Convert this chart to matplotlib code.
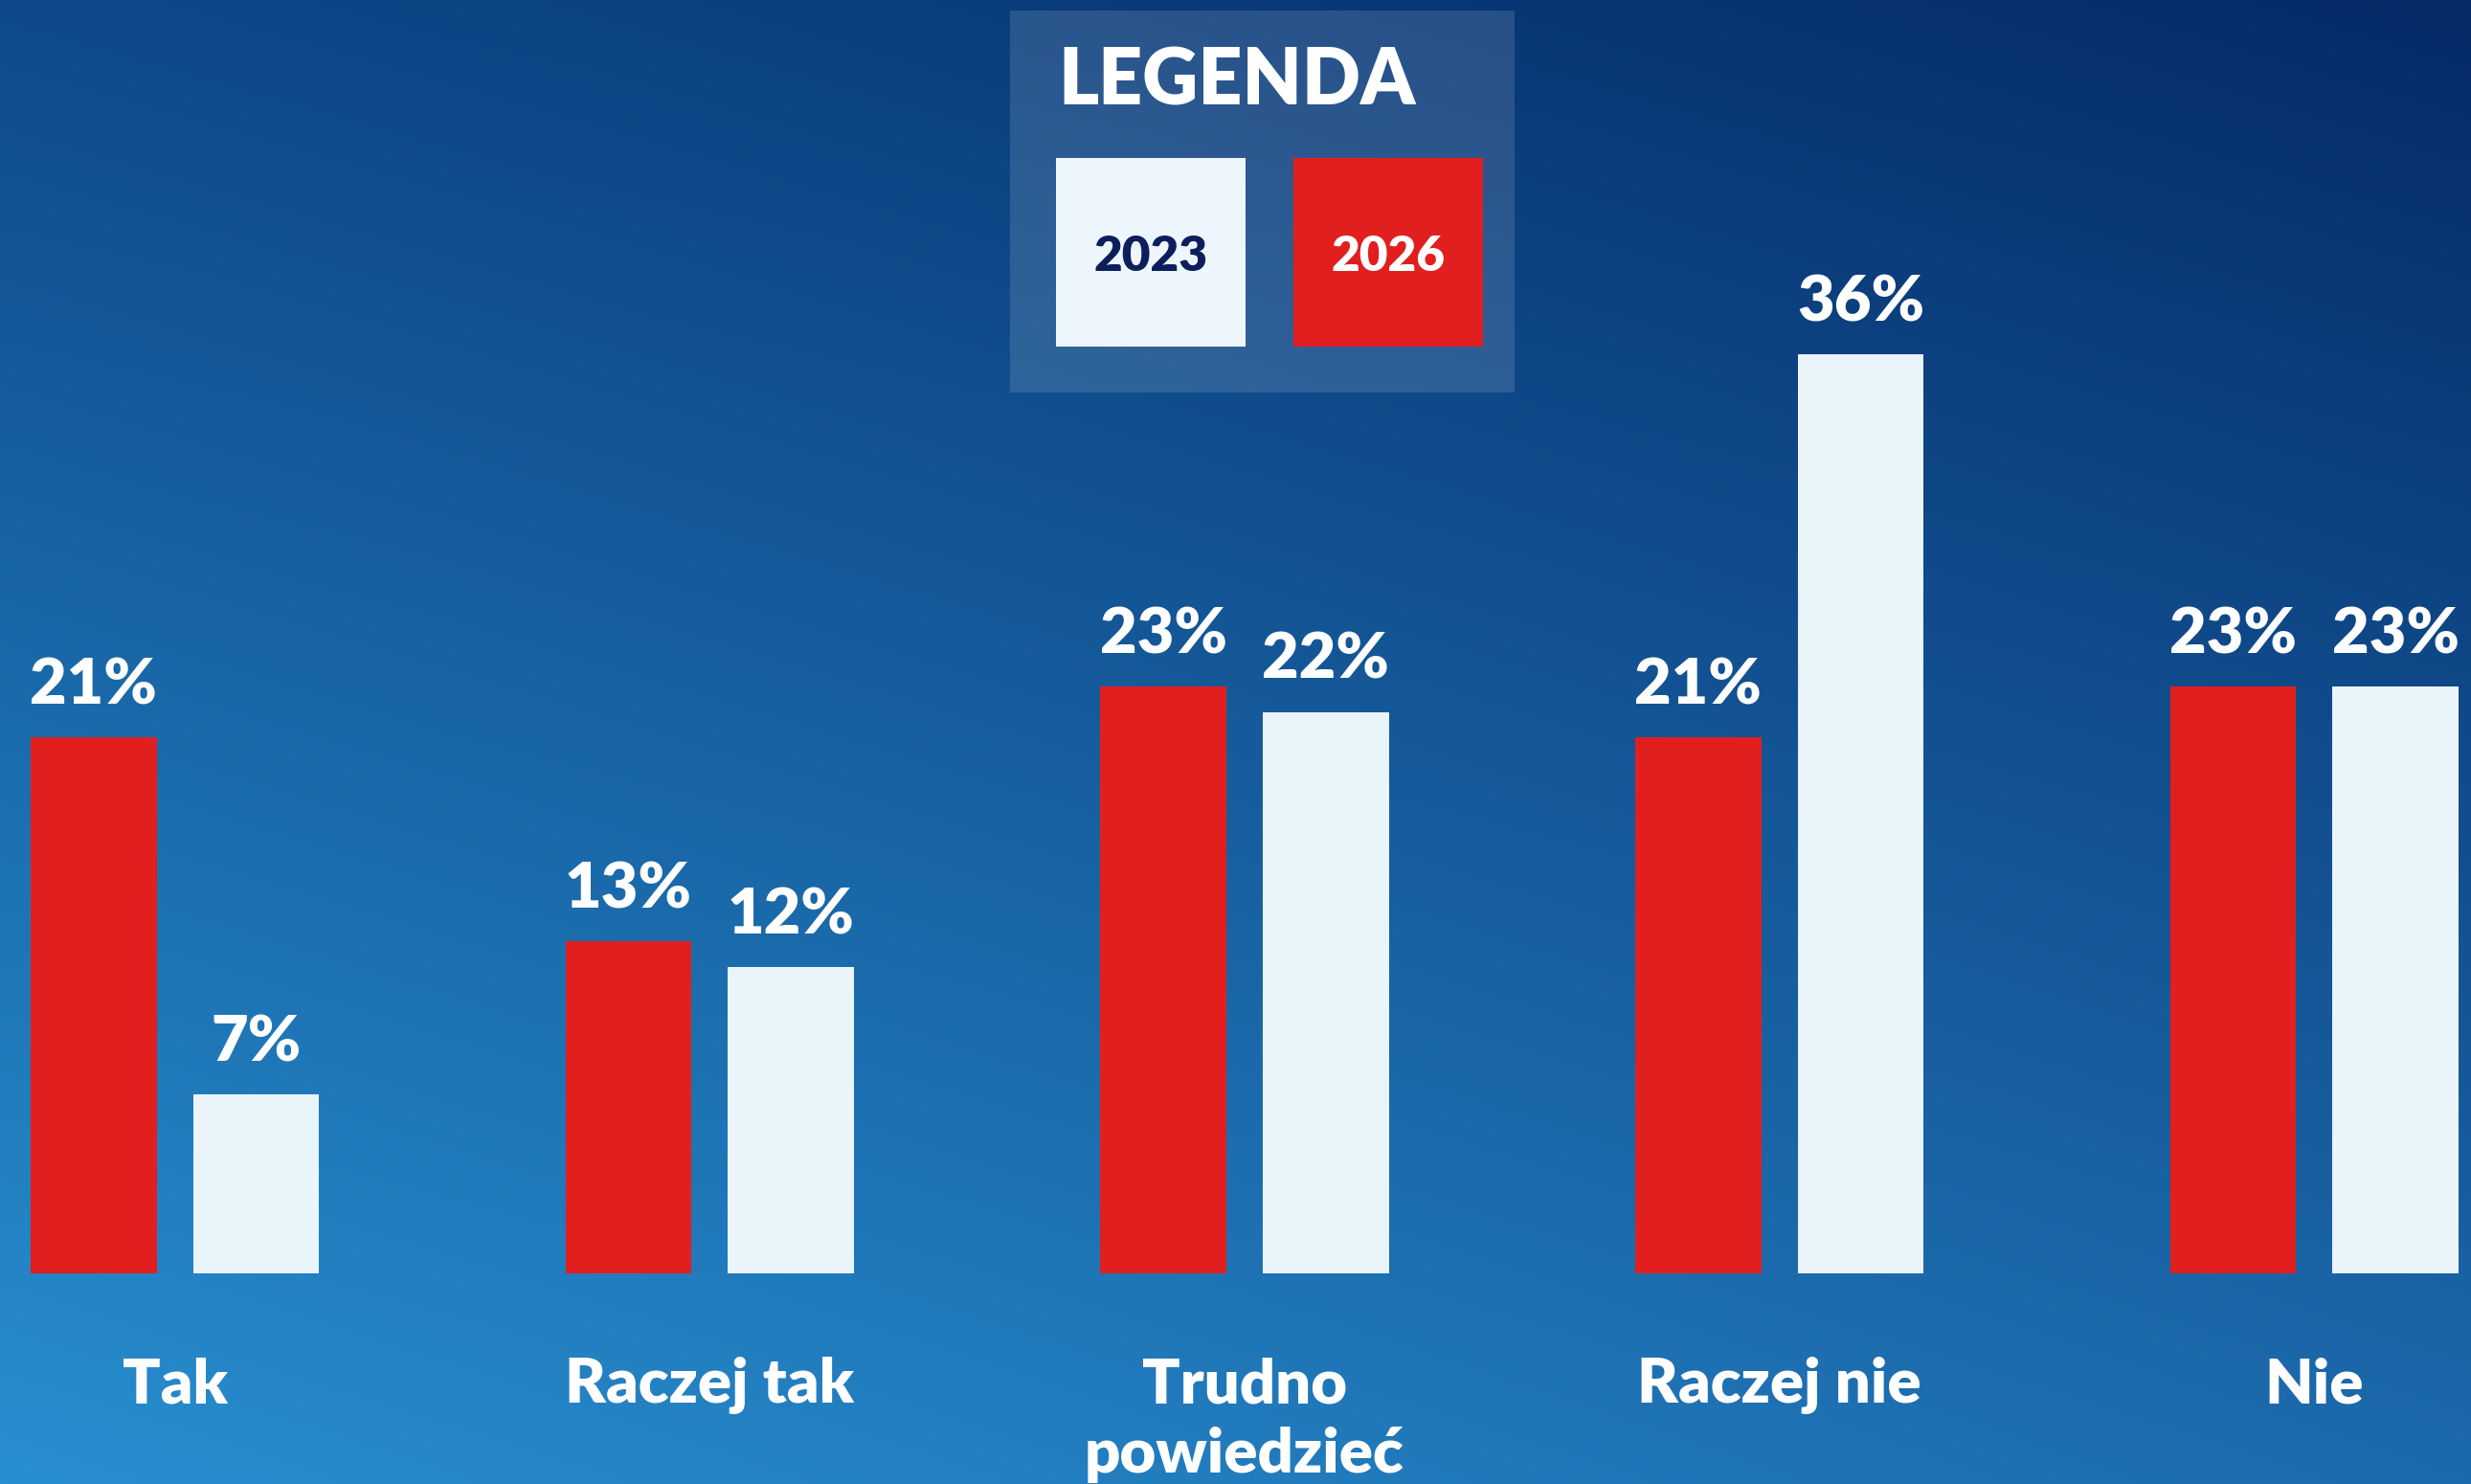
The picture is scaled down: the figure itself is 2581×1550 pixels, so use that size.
import matplotlib.pyplot as plt
import numpy as np
from matplotlib.patches import Rectangle

# dane
categories = ["Tak", "Raczej tak", "Trudno\npowiedzieć", "Raczej nie", "Nie"]
values_2026 = [21, 13, 23, 21, 23]
values_2023 = [7, 12, 22, 36, 23]
legend_title = "LEGENDA"
years = ["2023", "2026"]

RED = "#e11f1f"
WHITE = "#eaf4fb"
NAVY = "#0c1f5c"
FONT = ["Lato", "DejaVu Sans"]
WEIGHT = "heavy"

W, H = 2581, 1550
fig = plt.figure(figsize=(W / 100, H / 100), dpi=100)

# tlo - gradient
bg = fig.add_axes([0, 0, 1, 1])
tl = np.array([14, 74, 138]) / 255
tr = np.array([5, 42, 104]) / 255
bl = np.array([40, 143, 208]) / 255
br = np.array([28, 106, 172]) / 255
yy, xx = np.mgrid[0:1:200j, 0:1:300j]
grad = ((1 - yy)[..., None] * ((1 - xx)[..., None] * tl + xx[..., None] * tr)
        + yy[..., None] * ((1 - xx)[..., None] * bl + xx[..., None] * br))
bg.imshow(grad, extent=[0, 1, 0, 1], aspect="auto", interpolation="bilinear")
bg.axis("off")

# wykres
ax = fig.add_axes([0, 0, 1, 1])
ax.patch.set_alpha(0)
x = np.arange(len(categories))
w = 0.2357
off = 0.1518
ax.bar(x - off, values_2026, w, color=RED)
ax.bar(x + off, values_2023, w, color=WHITE)

for i in range(len(categories)):
    for xpos, v in ((x[i] - off, values_2026[i]), (x[i] + off, values_2023[i])):
        ax.annotate(f"{v}%", (xpos, v), xytext=(0, 25), textcoords="offset points",
                    ha="center", va="baseline", fontsize=48, fontweight=WEIGHT,
                    color="white", family=FONT)
    for j, line in enumerate(categories[i].split("\n")):
        ax.text(x[i], -5.07 - j * 2.75, line, ha="center", va="baseline",
                fontsize=47, fontweight=WEIGHT, color="white", family=FONT)

ax.set_xlim(-0.327, 4.293)
ax.set_ylim(-8.255, 49.9)
ax.axis("off")

# legenda
lg = fig.add_axes([0, 0, 1, 1])
lg.set_xlim(0, W)
lg.set_ylim(H, 0)
lg.axis("off")
lg.patch.set_alpha(0)
lg.add_patch(Rectangle((1055, 11), 527, 399, facecolor="white", alpha=0.13, lw=0))
lg.text(1105, 110, legend_title, ha="left", va="baseline", fontsize=58,
        fontweight=WEIGHT, color="white", family=FONT)
lg.add_patch(Rectangle((1103, 165), 198, 197, facecolor="#eef6fd", lw=0))
lg.add_patch(Rectangle((1351, 165), 198, 197, facecolor=RED, lw=0))
lg.text(1202, 283, years[0], ha="center", va="baseline", fontsize=37,
        fontweight=WEIGHT, color=NAVY, family=FONT)
lg.text(1450, 283, years[1], ha="center", va="baseline", fontsize=37,
        fontweight=WEIGHT, color="white", family=FONT)

fig.savefig("out.png", dpi=100)
